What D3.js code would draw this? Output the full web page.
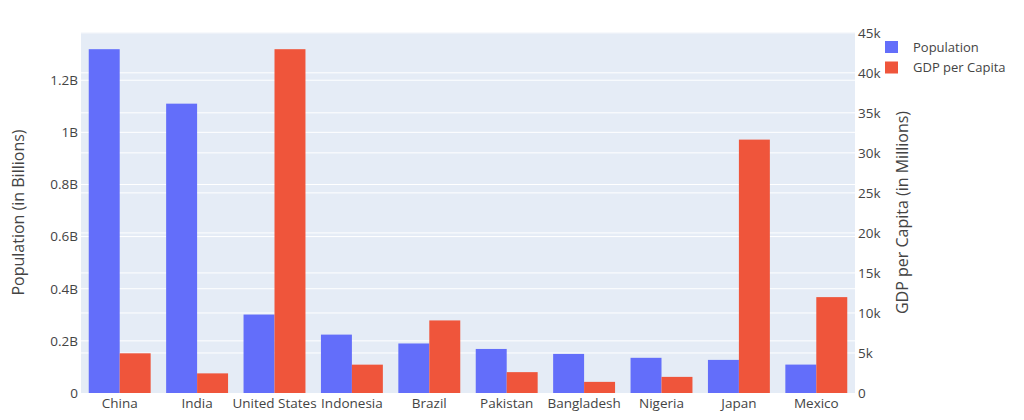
<html><head>
<title>Population and GDP per Capita</title>
<script src="https://d3js.org/d3.v7.min.js"></script>
<style>
  body { margin: 0; background: #fff; }
  text { font-family: "Open Sans", verdana, arial, sans-serif; fill: #444; }
</style>
</head>
<body>
<svg id="chart" width="1024" height="420"></svg>
<script>

// Data
const countries = ["China", "India", "United States", "Indonesia", "Brazil",
                   "Pakistan", "Bangladesh", "Nigeria", "Japan", "Mexico"];
const population = [1.319e9, 1.110e9, 0.301e9, 0.224e9, 0.190e9,
                    0.169e9, 0.150e9, 0.135e9, 0.127e9, 0.109e9];
const gdpPerCapita = [4959, 2452, 42952, 3541, 9066,
                      2606, 1391, 2014, 31656, 11978];
const popTicks = [0, 0.2e9, 0.4e9, 0.6e9, 0.8e9, 1.0e9, 1.2e9];
const gdpTicks = [0, 5000, 10000, 15000, 20000, 25000, 30000, 35000, 40000, 45000];
const seriesNames = ["Population", "GDP per Capita"];
const colors = ["#636efa", "#ef553b"];

const svg = d3.select("#chart");
const plotL = 81, plotR = 855, plotT = 32, plotB = 393;

// plot background
svg.append("rect")
   .attr("x", plotL).attr("y", plotT)
   .attr("width", plotR - plotL).attr("height", plotB - plotT)
   .attr("fill", "#e5ecf6");

const x = d3.scaleBand().domain(countries).range([plotL, plotR]).paddingInner(0.2).paddingOuter(0.1);
const inner = d3.scaleBand().domain([0, 1]).range([0, x.bandwidth()]);
const yPop = d3.scaleLinear().domain([0, d3.max(population) * 1.05]).range([plotB, plotT]);
const yGdp = d3.scaleLinear().domain([0, d3.max(gdpPerCapita) * 1.05]).range([plotB, plotT]);

// grid lines for both axes
const grid = svg.append("g");
grid.selectAll("line.pop").data(popTicks.slice(1)).join("line")
    .attr("class", "pop")
    .attr("x1", plotL).attr("x2", plotR)
    .attr("y1", d => yPop(d)).attr("y2", d => yPop(d))
    .attr("stroke", "#fff").attr("stroke-width", 1);
grid.selectAll("line.gdp").data(gdpTicks.slice(1)).join("line")
    .attr("class", "gdp")
    .attr("x1", plotL).attr("x2", plotR)
    .attr("y1", d => yGdp(d)).attr("y2", d => yGdp(d))
    .attr("stroke", "#fff").attr("stroke-width", 1);

// bars
const groups = svg.append("g").selectAll("g").data(countries).join("g")
    .attr("transform", d => `translate(${x(d)},0)`);

groups.append("rect")
    .attr("x", inner(0)).attr("width", inner.bandwidth())
    .attr("y", (d, i) => yPop(population[i]))
    .attr("height", (d, i) => plotB - yPop(population[i]))
    .attr("fill", colors[0]);

groups.append("rect")
    .attr("x", inner(1)).attr("width", inner.bandwidth())
    .attr("y", (d, i) => yGdp(gdpPerCapita[i]))
    .attr("height", (d, i) => plotB - yGdp(gdpPerCapita[i]))
    .attr("fill", colors[1]);

// axes
const popFmt = d => d === 0 ? "0" : (d / 1e9) + "B";
const gdpFmt = d => d === 0 ? "0" : (d / 1000) + "k";

const axisL = svg.append("g")
    .attr("transform", `translate(${plotL},0)`)
    .call(d3.axisLeft(yPop).tickValues(popTicks).tickFormat(popFmt).tickSize(0).tickPadding(3));
const axisR = svg.append("g")
    .attr("transform", `translate(${plotR},0)`)
    .call(d3.axisRight(yGdp).tickValues(gdpTicks).tickFormat(gdpFmt).tickSize(0).tickPadding(3));
const axisB = svg.append("g")
    .attr("transform", `translate(0,${plotB})`)
    .call(d3.axisBottom(x).tickSize(0).tickPadding(5));

[axisL, axisR, axisB].forEach(a => {
  a.select(".domain").remove();
  a.selectAll("text").attr("font-size", 13.5).attr("fill", "#444")
   .attr("font-family", "'Open Sans', verdana, arial, sans-serif");
});

// axis titles
svg.append("text")
   .attr("transform", `translate(24,${(plotT + plotB) / 2}) rotate(-90)`)
   .attr("text-anchor", "middle")
   .attr("font-size", 16)
   .text("Population (in Billions)");

svg.append("text")
   .attr("transform", `translate(908,${(plotT + plotB) / 2}) rotate(-90)`)
   .attr("text-anchor", "middle")
   .attr("font-size", 16)
   .text("GDP per Capita (in Millions)");

// legend
const legend = svg.append("g").attr("transform", "translate(885,41)");
const items = legend.selectAll("g").data(seriesNames).join("g")
    .attr("transform", (d, i) => `translate(0,${i * 20.5})`);
items.append("rect").attr("width", 13).attr("height", 12).attr("fill", (d, i) => colors[i]);
items.append("text").attr("x", 28).attr("y", 6).attr("dy", "0.35em")
     .attr("font-size", 13).text(d => d);

</script>
</body>
</html>
